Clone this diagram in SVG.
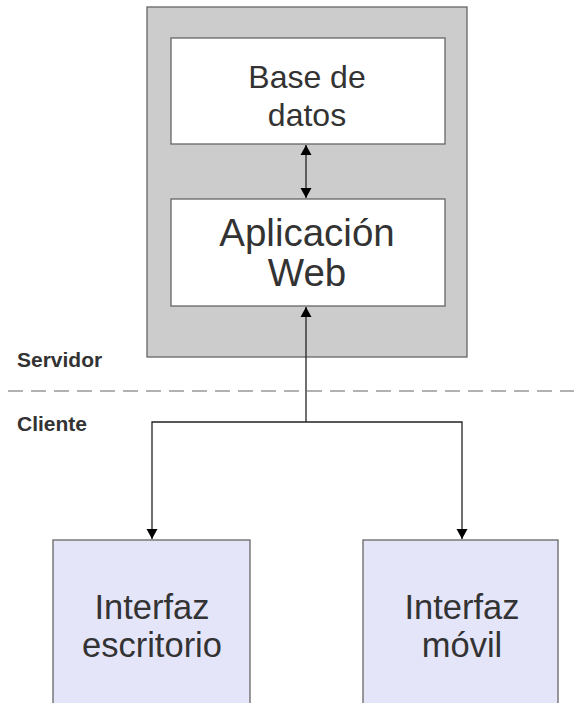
<svg xmlns="http://www.w3.org/2000/svg" width="574" height="703" viewBox="0 0 574 703">
  <style>
    .box { stroke: #666; stroke-width: 1.3; }
    .label { font-family: "Liberation Sans", Arial, sans-serif; fill: #333; text-anchor: middle; }
    .zone { font-family: "Liberation Sans", Arial, sans-serif; fill: #333; font-weight: bold; font-size: 21px; }
    .wire { stroke: #222; stroke-width: 1.3; fill: none; }
  </style>
  <defs>
    <marker id="arrow" viewBox="0 0 10 14" refX="10" refY="7" markerWidth="10" markerHeight="14" markerUnits="userSpaceOnUse" orient="auto-start-reverse">
      <path d="M0,1.5 L10,7 L0,12.5 Z" fill="#000"/>
    </marker>
  </defs>

  <rect width="574" height="703" fill="#fff"/>

  <!-- server container -->
  <g id="servidor-zona">
    <rect class="box" x="147" y="7" width="320" height="350" fill="#cccccc"/>
  </g>

  <!-- tier separator -->
  <g id="separador">
    <line x1="8" y1="391" x2="574" y2="391" stroke="#999" stroke-width="1.3" stroke-dasharray="15 8"/>
    <text class="zone" x="17" y="367">Servidor</text>
    <text class="zone" x="17" y="431">Cliente</text>
  </g>

  <g id="base-datos">
    <rect class="box" x="171" y="38" width="274" height="106" fill="#fff"/>
    <text class="label" x="307" y="88" font-size="32">Base de</text>
    <text class="label" x="307" y="126" font-size="32">datos</text>
  </g>

  <g id="aplicacion-web">
    <rect class="box" x="171" y="199" width="274" height="107" fill="#fff"/>
    <text class="label" x="307" y="246" font-size="38.5">Aplicación</text>
    <text class="label" x="307" y="286" font-size="38.5">Web</text>
  </g>

  <g id="interfaz-escritorio">
    <rect class="box" x="53" y="540" width="197" height="175" fill="#e5e5fa"/>
    <text class="label" x="152" y="619" font-size="34.5">Interfaz</text>
    <text class="label" x="152" y="657" font-size="34.5">escritorio</text>
  </g>

  <g id="interfaz-movil">
    <rect class="box" x="363" y="540" width="195" height="175" fill="#e5e5fa"/>
    <text class="label" x="462" y="619" font-size="34.5">Interfaz</text>
    <text class="label" x="462" y="657" font-size="34.5">móvil</text>
  </g>

  <g id="conectores">
    <line class="wire" x1="306" y1="145" x2="306" y2="198" marker-start="url(#arrow)" marker-end="url(#arrow)"/>
    <line class="wire" x1="306" y1="422" x2="306" y2="307" marker-end="url(#arrow)"/>
    <polyline class="wire" points="152,539 152,422 462,422 462,539" marker-start="url(#arrow)" marker-end="url(#arrow)"/>
  </g>
</svg>
